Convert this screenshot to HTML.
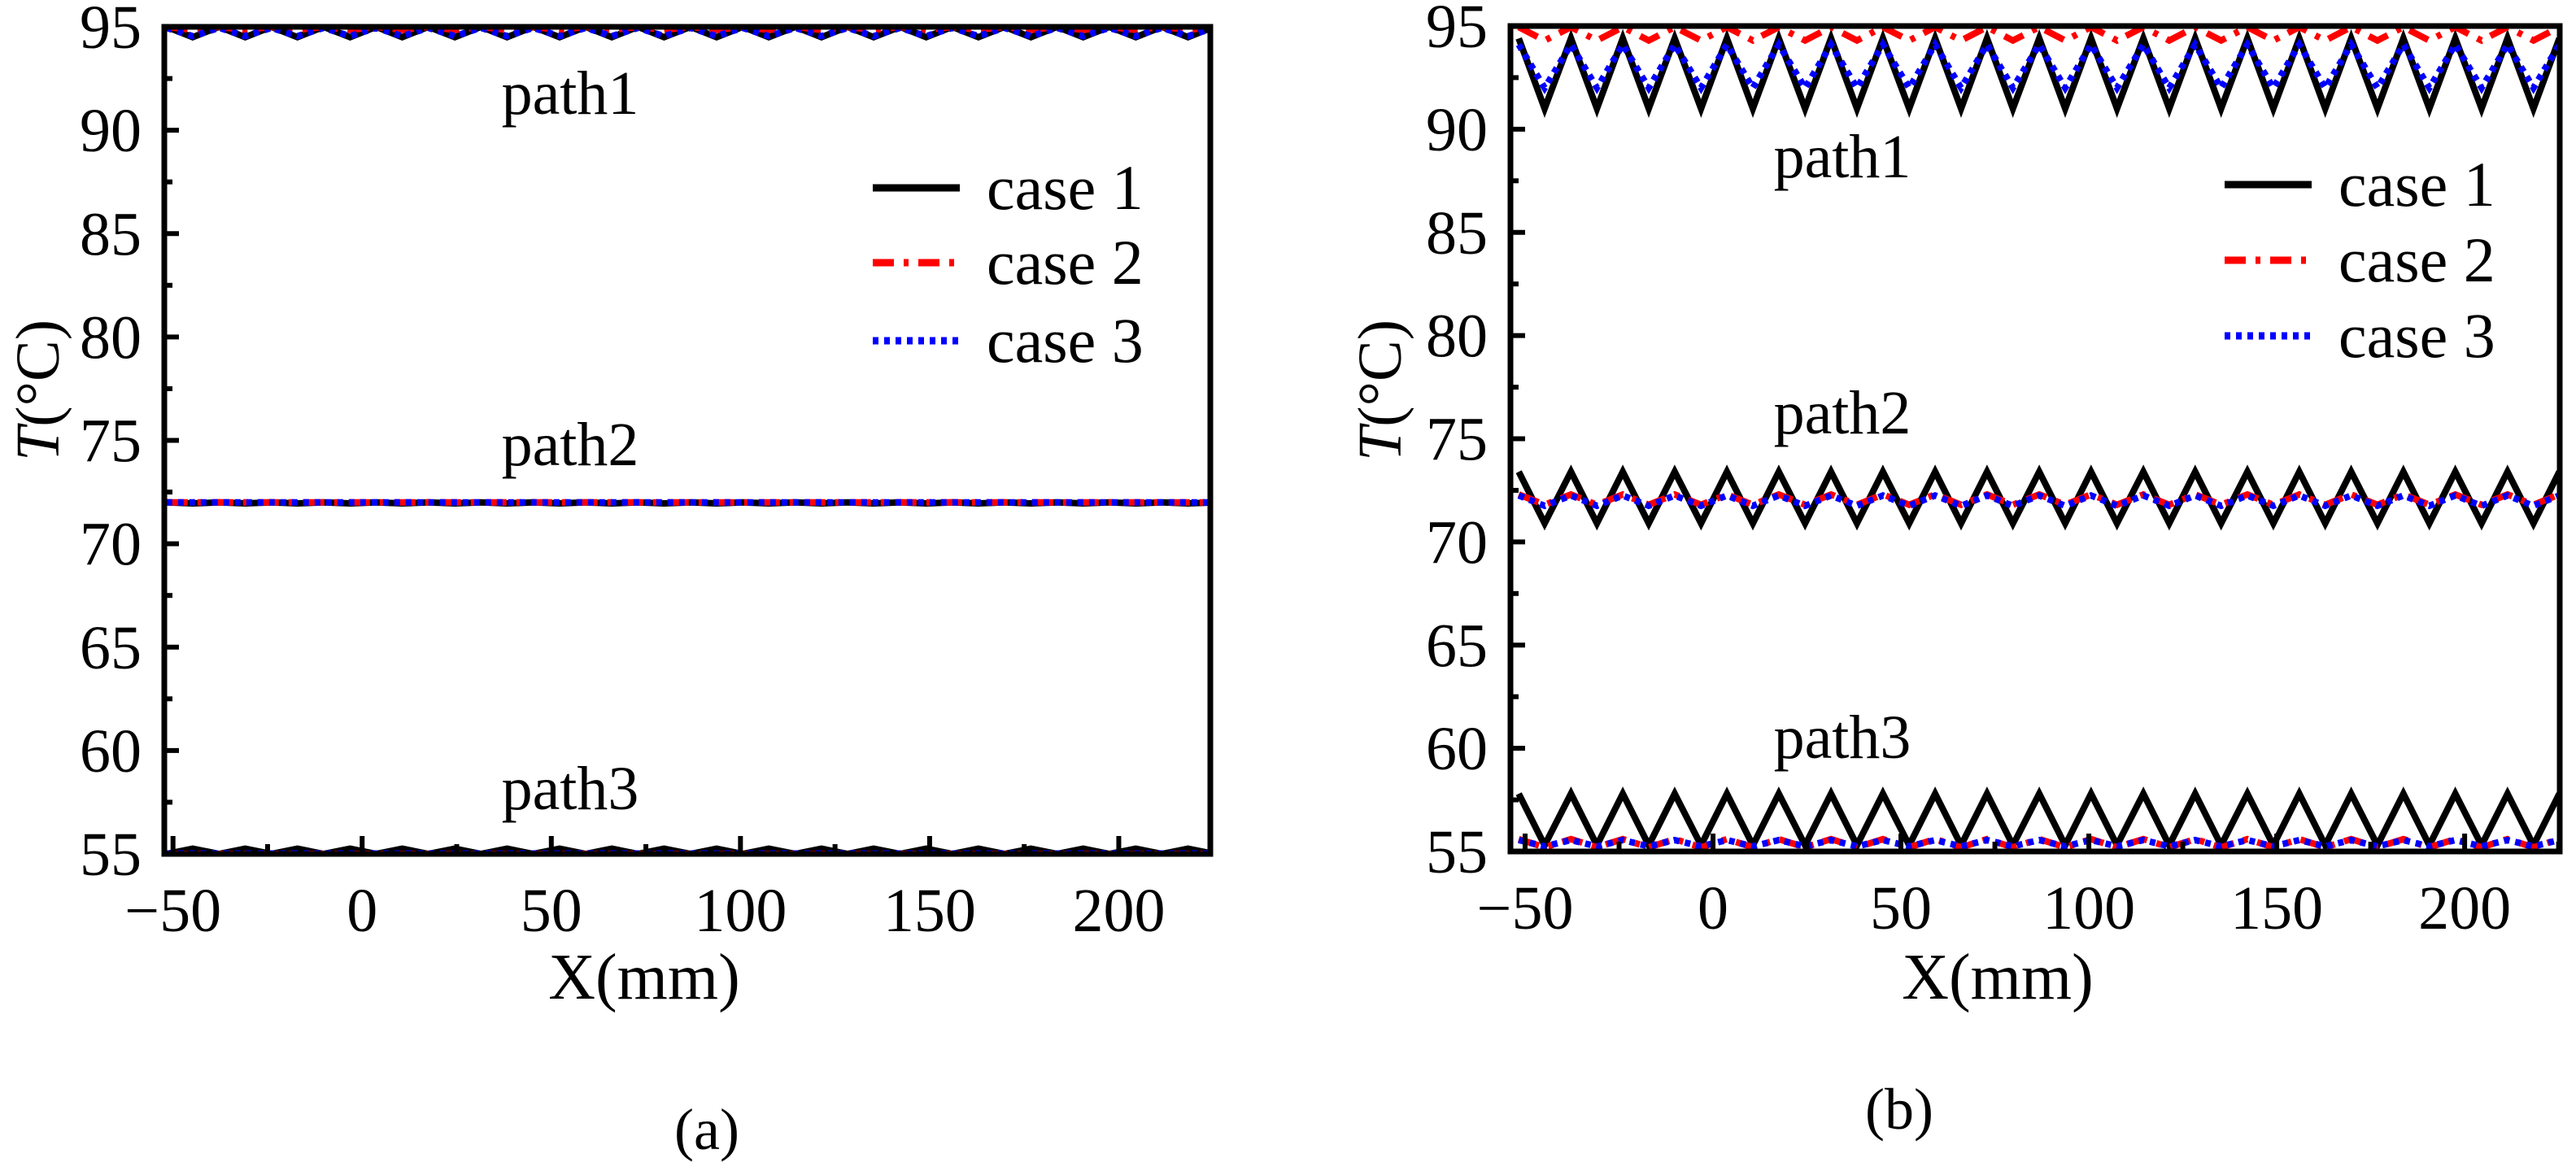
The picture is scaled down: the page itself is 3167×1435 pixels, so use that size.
<!DOCTYPE html>
<html><head><meta charset="utf-8">
<style>
html,body{margin:0;padding:0;background:#fff;}
svg{display:block;font-family:"Liberation Serif",serif;}
</style></head>
<body>
<svg id="fig" width="3167" height="1435" viewBox="0 0 3167 1435"></svg>
<script>
// ---- data ----
const xTicks = [-50, 0, 50, 100, 150, 200];
const yTicks = [55, 60, 65, 70, 75, 80, 85, 90, 95];
const caseNames = ["case 1", "case 2", "case 3"];
// x positions of alternating peak/trough vertices (mm)
const xv = [-51.7,-44.8,-37.8,-30.9,-24.0,-17.1,-10.2,-3.2,3.7,10.6,17.5,24.5,31.4,38.3,45.2,52.2,59.1,66.0,72.9,79.8,86.8,93.7,100.6,107.5,114.5,121.4,128.3,135.2,142.2,149.1,156.0,162.9,169.8,176.8,183.7,190.6,197.5,204.5,211.4,218.3,225.2];
// panel (a) series
const a_p1_c1 = [95.0,94.5,95.0,94.5,95.0,94.5,95.0,94.5,95.0,94.5,95.0,94.5,95.0,94.5,95.0,94.5,95.0,94.5,95.0,94.5,95.0,94.5,95.0,94.5,95.0,94.5,95.0,94.5,95.0,94.5,95.0,94.5,95.0,94.5,95.0,94.5,95.0,94.5,95.0,94.5,95.0];
const a_p1_c2 = [95.0,94.85,95.0,94.85,95.0,94.85,95.0,94.85,95.0,94.85,95.0,94.85,95.0,94.85,95.0,94.85,95.0,94.85,95.0,94.85,95.0,94.85,95.0,94.85,95.0,94.85,95.0,94.85,95.0,94.85,95.0,94.85,95.0,94.85,95.0,94.85,95.0,94.85,95.0,94.85,95.0];
const a_p1_c3 = [94.95,94.55,94.95,94.55,94.95,94.55,94.95,94.55,94.95,94.55,94.95,94.55,94.95,94.55,94.95,94.55,94.95,94.55,94.95,94.55,94.95,94.55,94.95,94.55,94.95,94.55,94.95,94.55,94.95,94.55,94.95,94.55,94.95,94.55,94.95,94.55,94.95,94.55,94.95,94.55,94.95];
const a_p2_c1 = [72.0,71.95,72.0,71.95,72.0,71.95,72.0,71.95,72.0,71.95,72.0,71.95,72.0,71.95,72.0,71.95,72.0,71.95,72.0,71.95,72.0,71.95,72.0,71.95,72.0,71.95,72.0,71.95,72.0,71.95,72.0,71.95,72.0,71.95,72.0,71.95,72.0,71.95,72.0,71.95,72.0];
const a_p2_c2 = [72.0,72.0,72.0,72.0,72.0,72.0,72.0,72.0,72.0,72.0,72.0,72.0,72.0,72.0,72.0,72.0,72.0,72.0,72.0,72.0,72.0,72.0,72.0,72.0,72.0,72.0,72.0,72.0,72.0,72.0,72.0,72.0,72.0,72.0,72.0,72.0,72.0,72.0,72.0,72.0,72.0];
const a_p2_c3 = [72.0,72.0,72.0,72.0,72.0,72.0,72.0,72.0,72.0,72.0,72.0,72.0,72.0,72.0,72.0,72.0,72.0,72.0,72.0,72.0,72.0,72.0,72.0,72.0,72.0,72.0,72.0,72.0,72.0,72.0,72.0,72.0,72.0,72.0,72.0,72.0,72.0,72.0,72.0,72.0,72.0];
const a_p3_c1 = [55.0,55.25,55.0,55.25,55.0,55.25,55.0,55.25,55.0,55.25,55.0,55.25,55.0,55.25,55.0,55.25,55.0,55.25,55.0,55.25,55.0,55.25,55.0,55.25,55.0,55.25,55.0,55.25,55.0,55.25,55.0,55.25,55.0,55.25,55.0,55.25,55.0,55.25,55.0,55.25,55.0];
const a_p3_c2 = [55.0,55.0,55.0,55.0,55.0,55.0,55.0,55.0,55.0,55.0,55.0,55.0,55.0,55.0,55.0,55.0,55.0,55.0,55.0,55.0,55.0,55.0,55.0,55.0,55.0,55.0,55.0,55.0,55.0,55.0,55.0,55.0,55.0,55.0,55.0,55.0,55.0,55.0,55.0,55.0,55.0];
const a_p3_c3 = [55.02,55.02,55.02,55.02,55.02,55.02,55.02,55.02,55.02,55.02,55.02,55.02,55.02,55.02,55.02,55.02,55.02,55.02,55.02,55.02,55.02,55.02,55.02,55.02,55.02,55.02,55.02,55.02,55.02,55.02,55.02,55.02,55.02,55.02,55.02,55.02,55.02,55.02,55.02,55.02,55.02];
// panel (b) series
const b_p1_c1 = [94.4,91.0,94.4,91.0,94.4,91.0,94.4,91.0,94.4,91.0,94.4,91.0,94.4,91.0,94.4,91.0,94.4,91.0,94.4,91.0,94.4,91.0,94.4,91.0,94.4,91.0,94.4,91.0,94.4,91.0,94.4,91.0,94.4,91.0,94.4,91.0,94.4,91.0,94.4,91.0,94.4];
const b_p1_c2 = [94.95,94.3,94.95,94.3,94.95,94.3,94.95,94.3,94.95,94.3,94.95,94.3,94.95,94.3,94.95,94.3,94.95,94.3,94.95,94.3,94.95,94.3,94.95,94.3,94.95,94.3,94.95,94.3,94.95,94.3,94.95,94.3,94.95,94.3,94.95,94.3,94.95,94.3,94.95,94.3,94.95];
const b_p1_c3 = [94.1,92.0,94.1,92.0,94.1,92.0,94.1,92.0,94.1,92.0,94.1,92.0,94.1,92.0,94.1,92.0,94.1,92.0,94.1,92.0,94.1,92.0,94.1,92.0,94.1,92.0,94.1,92.0,94.1,92.0,94.1,92.0,94.1,92.0,94.1,92.0,94.1,92.0,94.1,92.0,94.1];
const b_p2_c1 = [73.4,70.9,73.4,70.9,73.4,70.9,73.4,70.9,73.4,70.9,73.4,70.9,73.4,70.9,73.4,70.9,73.4,70.9,73.4,70.9,73.4,70.9,73.4,70.9,73.4,70.9,73.4,70.9,73.4,70.9,73.4,70.9,73.4,70.9,73.4,70.9,73.4,70.9,73.4,70.9,73.4];
const b_p2_c2 = [72.3,71.8,72.3,71.8,72.3,71.8,72.3,71.8,72.3,71.8,72.3,71.8,72.3,71.8,72.3,71.8,72.3,71.8,72.3,71.8,72.3,71.8,72.3,71.8,72.3,71.8,72.3,71.8,72.3,71.8,72.3,71.8,72.3,71.8,72.3,71.8,72.3,71.8,72.3,71.8,72.3];
const b_p2_c3 = [72.25,71.75,72.25,71.75,72.25,71.75,72.25,71.75,72.25,71.75,72.25,71.75,72.25,71.75,72.25,71.75,72.25,71.75,72.25,71.75,72.25,71.75,72.25,71.75,72.25,71.75,72.25,71.75,72.25,71.75,72.25,71.75,72.25,71.75,72.25,71.75,72.25,71.75,72.25,71.75,72.25];
const b_p3_c1 = [57.8,55.3,57.8,55.3,57.8,55.3,57.8,55.3,57.8,55.3,57.8,55.3,57.8,55.3,57.8,55.3,57.8,55.3,57.8,55.3,57.8,55.3,57.8,55.3,57.8,55.3,57.8,55.3,57.8,55.3,57.8,55.3,57.8,55.3,57.8,55.3,57.8,55.3,57.8,55.3,57.8];
const b_p3_c2 = [55.6,55.2,55.6,55.2,55.6,55.2,55.6,55.2,55.6,55.2,55.6,55.2,55.6,55.2,55.6,55.2,55.6,55.2,55.6,55.2,55.6,55.2,55.6,55.2,55.6,55.2,55.6,55.2,55.6,55.2,55.6,55.2,55.6,55.2,55.6,55.2,55.6,55.2,55.6,55.2,55.6];
const b_p3_c3 = [55.55,55.25,55.55,55.25,55.55,55.25,55.55,55.25,55.55,55.25,55.55,55.25,55.55,55.25,55.55,55.25,55.55,55.25,55.55,55.25,55.55,55.25,55.55,55.25,55.55,55.25,55.55,55.25,55.55,55.25,55.55,55.25,55.55,55.25,55.55,55.25,55.55,55.25,55.55,55.25,55.55];

const NS = "http://www.w3.org/2000/svg";
const svg = document.getElementById("fig");
function mk(tag, attrs, parent){
  const e = document.createElementNS(NS, tag);
  for (const k in attrs) e.setAttribute(k, attrs[k]);
  (parent || svg).appendChild(e);
  return e;
}
const styles = [
  {stroke:"#000", dash:""},
  {stroke:"#ff0000", dash:"26 12 6 12"},
  {stroke:"#0000ff", dash:"7 7"}
];

function panel(P){
  const g = mk("g", {});
  
  
  const sx = v => P.L + (v - P.xmin) / (P.xmax - P.xmin) * (P.R - P.L);
  const sy = v => P.B - (v - 55) / 40 * (P.B - P.T);
  const clipId = "clip-" + P.id;
  const cp = mk("clipPath", {id: clipId}, g);
  mk("rect", {x:P.L, y:P.T, width:P.R-P.L, height:P.B-P.T}, cp);
  const lines = mk("g", {"clip-path":"url(#"+clipId+")"}, g);
  P.series.forEach((path, pi) => {
    path.forEach((vals, ci) => {
      const d = vals.map((v,i)=>(i?"L":"M")+sx(xv[i]).toFixed(1)+","+sy(v).toFixed(1)).join(" ");
      const p = mk("path", {d:d, fill:"none", stroke:styles[ci].stroke, "stroke-width":8, "stroke-dasharray":styles[ci].dash, "stroke-linejoin":"miter"}, lines);
      
      
    });
  });
  const fr = mk("rect", {x:P.L, y:P.T, width:P.R-P.L, height:P.B-P.T, fill:"none", stroke:"#000", "stroke-width":7}, g);
  
  
  yTicks.forEach(t => {
    const y = sy(t);
    mk("line", {x1:P.L, x2:P.L+18, y1:y, y2:y, stroke:"#000", "stroke-width":6}, g);
    if (t < 95) mk("line", {x1:P.L, x2:P.L+10, y1:sy(t+2.5), y2:sy(t+2.5), stroke:"#000", "stroke-width":6}, g);
    const tx = mk("text", {x:P.L-28, y:y+26, "text-anchor":"end", "font-size":76}, g);
    tx.textContent = t;
    
    
  });
  xTicks.forEach(t => {
    const x = sx(t);
    mk("line", {x1:x, x2:x, y1:P.B, y2:P.B-22, stroke:"#000", "stroke-width":6}, g);
    if (t+25 < P.xmax) mk("line", {x1:sx(t+25), x2:sx(t+25), y1:P.B, y2:P.B-12, stroke:"#000", "stroke-width":6}, g);
    const tx = mk("text", {x:x, y:P.B+95, "text-anchor":"middle", "font-size":76}, g);
    tx.textContent = t < 0 ? "\u2212" + (-t) : t;
    
    
  });
  const xt = mk("text", {x:P.xtx, y:1228, "text-anchor":"middle", "font-size":80}, g);
  xt.textContent = "X(mm)";
  
  
  const yt = mk("text", {x:0, y:0, "text-anchor":"middle", "font-size":76, transform:"translate("+P.ytx+",480) rotate(-90)"}, g);
  yt.innerHTML = '<tspan font-style="italic">T</tspan>(°C)';
  
  
  P.pathLabels.forEach((pl, i) => {
    const t = mk("text", {x:pl[0], y:pl[1]+24, "text-anchor":"middle", "font-size":76}, g);
    t.textContent = "path" + (i+1);
    
    
  });
  const lg = mk("g", {}, g);
  
  
  caseNames.forEach((n, i) => {
    const y = P.legY[i];
    const e = mk("g", {}, lg);
    
    
    mk("line", {x1:P.legX, x2:P.legX+107, y1:y, y2:y, stroke:styles[i].stroke, "stroke-width":9, "stroke-dasharray":styles[i].dash}, e);
    const t = mk("text", {x:P.legX+140, y:y+26, "font-size":78}, e);
    t.textContent = n;
  });
  const cap = mk("text", {x:P.cap[0], y:P.cap[1]+25, "text-anchor":"middle", "font-size":72}, g);
  cap.textContent = P.capText;
  
  
}

panel({id:"panel-a", L:202, R:1488, T:33, B:1050, xmin:-52.3, xmax:224.2,
  series:[[a_p1_c1,a_p1_c2,a_p1_c3],[a_p2_c1,a_p2_c2,a_p2_c3],[a_p3_c1,a_p3_c2,a_p3_c3]],
  xtx:792, ytx:72, pathLabels:[[701,116],[701,548],[701,971]],
  legX:1073, legY:[231,323,419], cap:[869,1388], capText:"(a)"});
panel({id:"panel-b", L:1857, R:3147, T:32, B:1047, xmin:-53.9, xmax:225.3,
  series:[[b_p1_c1,b_p1_c2,b_p1_c3],[b_p2_c1,b_p2_c2,b_p2_c3],[b_p3_c1,b_p3_c2,b_p3_c3]],
  xtx:2456, ytx:1722, pathLabels:[[2265,194],[2265,509],[2265,908]],
  legX:2735, legY:[227,320,413], cap:[2335,1363], capText:"(b)"});
</script>
</body></html>
